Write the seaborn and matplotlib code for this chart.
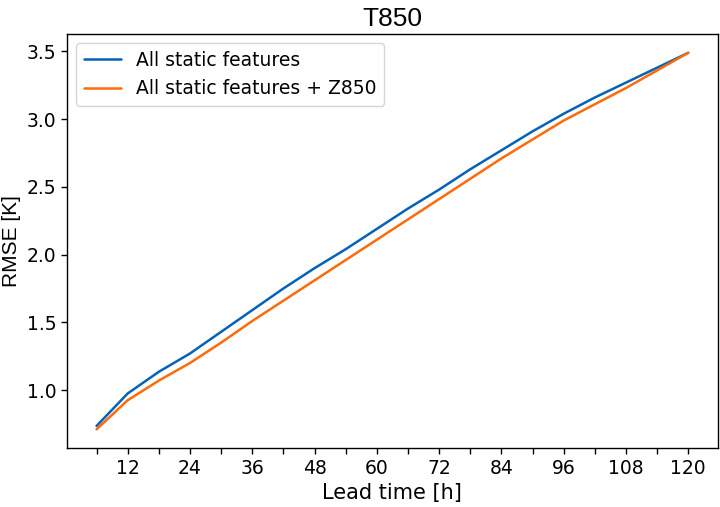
import pandas as pd
import matplotlib
matplotlib.use("Agg")
import matplotlib.pyplot as plt
import seaborn as sns

# --- data ---
lead_time = [6, 12, 18, 24, 30, 36, 42, 48, 54, 60,
             66, 72, 78, 84, 90, 96, 102, 108, 114, 120]
rmse_static = [0.735, 0.975, 1.135, 1.27, 1.43, 1.59, 1.75, 1.90, 2.04, 2.19,
               2.34, 2.48, 2.63, 2.77, 2.91, 3.04, 3.16, 3.27, 3.38, 3.49]
rmse_static_z850 = [0.71, 0.925, 1.07, 1.20, 1.35, 1.51, 1.66, 1.81, 1.96, 2.11,
                    2.26, 2.41, 2.56, 2.71, 2.85, 2.99, 3.11, 3.23, 3.36, 3.49]
series_names = ["All static features", "All static features + Z850"]
tick_labels = ["", "12", "", "24", "", "36", "", "48", "", "60",
               "", "72", "", "84", "", "96", "", "108", "", "120"]

df = pd.DataFrame({
    "lead_time": lead_time * 2,
    "rmse": rmse_static + rmse_static_z850,
    "setup": [series_names[0]] * len(lead_time) + [series_names[1]] * len(lead_time),
})

sns.set_style("white")
plt.rcParams["font.family"] = ["DejaVu Sans"]
plt.rcParams["axes.edgecolor"] = "black"
plt.rcParams["text.color"] = "black"
plt.rcParams["axes.labelcolor"] = "black"
plt.rcParams["xtick.color"] = "black"
plt.rcParams["ytick.color"] = "black"
plt.rcParams["xtick.bottom"] = True
plt.rcParams["ytick.left"] = True

fig = plt.figure(figsize=(7.2, 5.07), dpi=100)
ax = fig.add_axes([0.093, 0.116, 0.904, 0.817])

palette = {series_names[0]: "#0562b8", series_names[1]: "#ff6a0a"}
sns.lineplot(data=df, x="lead_time", y="rmse", hue="setup", palette=palette,
             linewidth=1.8, ax=ax)

ax.set_xticks(lead_time)
ax.set_xticklabels(tick_labels)
ax.tick_params(axis="both", labelsize=13.5, length=4, width=1, color="black")
for s in ax.spines.values():
    s.set_linewidth(1.0)

narrow = ["Liberation Sans Narrow", "Liberation Sans", "DejaVu Sans"]
ax.set_title("T850", fontsize=19, family=narrow)
ax.set_ylabel("RMSE [K]", fontsize=15, family=narrow)
ax.set_xlabel("Lead time [h]", fontsize=15)

leg = ax.legend(loc="upper left", fontsize=13.5, frameon=True, edgecolor="0.8")
leg.set_title(None)

fig.savefig("out.png", dpi=100)
